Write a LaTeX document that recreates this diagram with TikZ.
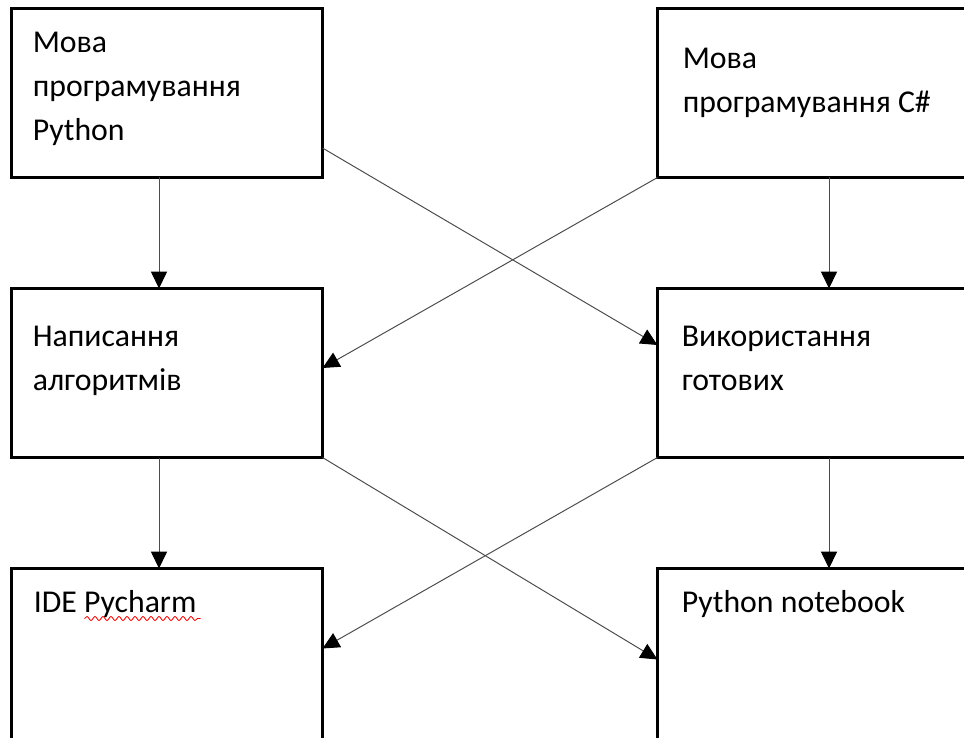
\documentclass[tikz,border=0pt]{standalone}
\usepackage{fontspec}
\setmainfont{Carlito}
\usetikzlibrary{positioning, arrows.meta, decorations.pathmorphing}

\tikzset{
  block/.style={draw, line width=2pt, minimum width=7.775cm, minimum height=4.225cm, outer sep=0pt, inner sep=0pt},
  lowblock/.style={block, minimum height=4.4cm},
  txt/.style={font=\fontsize{22.6}{31.2}\selectfont, align=left, inner sep=0pt, anchor=base west},
  link/.style={draw=black!70, line width=0.7pt, -{Triangle[length=0.42cm, width=0.4cm, color=black]}}
}

\begin{document}
\begin{tikzpicture}
    \useasboundingbox (0,0) rectangle (24.1,-18.45);

    % Boxes
    \node[block] (py) at (4.175,-2.325) {};
    \node[block, right=8.375cm of py] (cs) {};
    \node[block, below=2.775cm of py] (algo) {};
    \node[block, below=2.775cm of cs] (ready) {};
    \node[lowblock, below=2.775cm of algo.south, anchor=north] (ide) {};
    \node[lowblock, below=2.775cm of ready.south, anchor=north] (nb) {};

    % Labels in the boxes (base = last line)
    \node[txt] (pyt) at ([xshift=0.525cm, yshift=-3.3cm]py.north west) {Мова\\програмування\\Python};
    \node[txt] (cst) at ([xshift=0.625cm, yshift=-2.6cm]cs.north west) {Мова\\програмування C\#};
    \node[txt] (algot) at ([xshift=0.525cm, yshift=-2.55cm]algo.north west) {Написання\\алгоритмів};
    \node[txt] (readyt) at ([xshift=0.6cm, yshift=-2.55cm]ready.north west) {Використання\\готових};
    \node[txt] (idet) at ([xshift=0.55cm, yshift=-1.1cm]ide.north west) {IDE Pycharm};
    \node[txt] (nbt) at ([xshift=0.6cm, yshift=-1.1cm]nb.north west) {Python notebook};

    % spell-check squiggle under Pycharm
    \draw[red, line width=0.6pt, decorate, decoration={snake, segment length=0.2cm, amplitude=0.05cm}]
        ([xshift=1.825cm, yshift=-1.25cm]ide.north west) -- ([xshift=4.725cm, yshift=-1.25cm]ide.north west);

    % Straight down
    \draw[link] ([xshift=-0.2cm]py.south) -- ([xshift=-0.2cm]algo.north);
    \draw[link] ([xshift=0.4cm]cs.south) -- ([xshift=0.4cm]ready.north);
    \draw[link] ([xshift=-0.2cm]algo.south) -- ([xshift=-0.2cm]ide.north);
    \draw[link] ([xshift=0.4cm]ready.south) -- ([xshift=0.4cm]nb.north);

    % Crossing links
    \draw[link] ([yshift=-1.375cm]py.east) -- ([yshift=0.7cm]ready.west);
    \draw[link] (cs.south west) -- ([yshift=0.125cm]algo.east);
    \draw[link] (algo.south east) -- ([yshift=-0.075cm]nb.west);
    \draw[link] (ready.south west) -- ([yshift=0.2cm]ide.east);
\end{tikzpicture}
\end{document}
